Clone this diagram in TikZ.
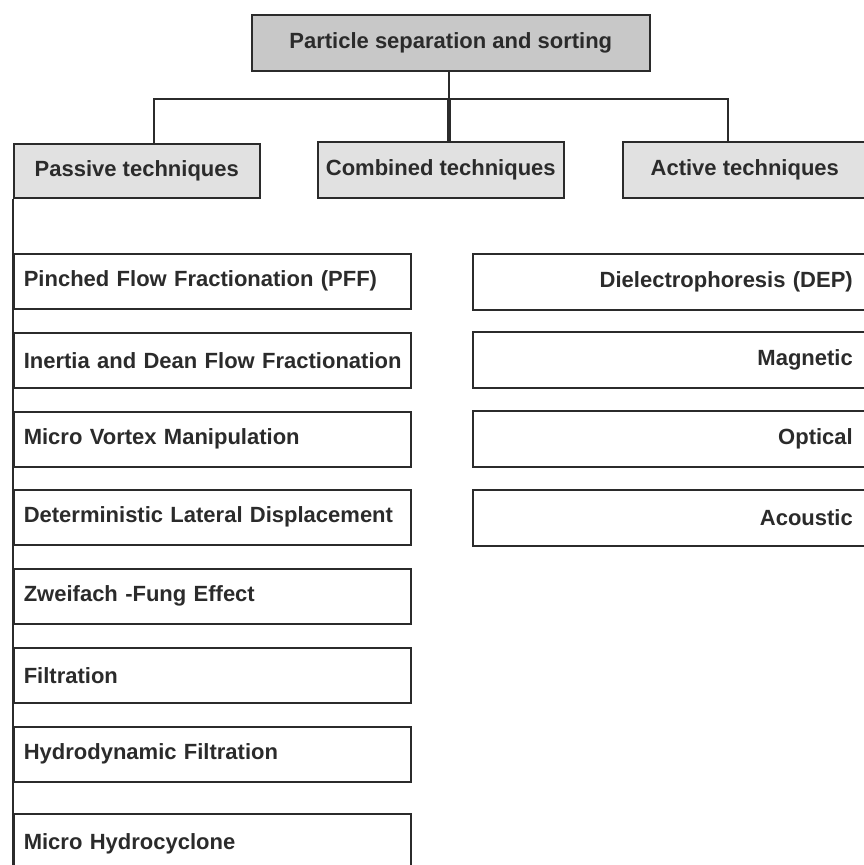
\documentclass[tikz,border=0pt]{standalone}
\usepackage{fontspec}
\setmainfont{Liberation Sans}
\definecolor{inkgray}{HTML}{2B2B2B}
\definecolor{rootgray}{HTML}{C8C8C8}
\definecolor{catgray}{HTML}{E1E1E1}
\tikzset{
    base/.style={draw=inkgray, line width=1.6pt, text=inkgray,
        font=\fontsize{22}{25}\selectfont\bfseries, anchor=north west,
        inner ysep=0pt},
    rootbox/.style={base, fill=rootgray, minimum width=398pt,
        minimum height=56pt},
    catbox/.style={base, fill=catgray, minimum width=246pt,
        minimum height=56pt},
    passbox/.style={base, text width=377pt, inner xsep=10pt, align=left,
        minimum height=55pt},
    actbox/.style={base, text width=366pt, inner xsep=14pt, align=right,
        minimum height=56pt},
    link/.style={draw=inkgray, line width=1.6pt},
}
\begin{document}
\begin{tikzpicture}[x=1pt, y=-1pt]
    \useasboundingbox (0, 0) rectangle (864, 865);
    % root and the three groups
    \node[rootbox] (root) at (251, 14) {Particle separation and sorting};
    \node[catbox, minimum height=54pt] (passive) at (13, 143)
        {Passive techniques};
    \node[catbox] (combined) at (317, 141) {Combined techniques};
    \node[catbox, minimum width=244pt] (active) at (622, 141)
        {Active techniques};
    % passive methods
    \node[passbox] (pff) at (13, 253) {Pinched Flow Fractionation (PFF)};
    \node[passbox] (dean) at (13, 332)
        {\mbox{Inertia and Dean Flow Fractionation}};
    \node[passbox] (vortex) at (13, 411) {Micro Vortex Manipulation};
    \node[passbox] (dld) at (13, 489) {Deterministic Lateral Displacement};
    \node[passbox] (zweifach) at (13, 568) {Zweifach -Fung Effect};
    \node[passbox] (filtration) at (13, 647) {Filtration};
    \node[passbox] (hydrofilt) at (13, 726) {Hydrodynamic Filtration};
    \node[passbox, minimum height=60pt] (cyclone) at (13, 813)
        {Micro Hydrocyclone};
    % active methods
    \node[actbox] (dep) at (472, 253) {Dielectrophoresis (DEP)};
    \node[actbox] (magnetic) at (472, 331) {Magnetic};
    \node[actbox] (optical) at (472, 410) {Optical};
    \node[actbox] (acoustic) at (472, 489) {Acoustic};
    % connectors
    \coordinate (hub) at (449, 99);
    \draw[link] (root.south -| hub) -- (hub);
    \draw[link, line width=3.2pt] (hub) -- (hub |- combined.north);
    \draw[link] ([xshift=17pt]passive.north) |- (hub)
        -| ([xshift=-17pt]active.north);
    \draw[link] (passive.south west) -- (cyclone.south west);
\end{tikzpicture}
\end{document}
